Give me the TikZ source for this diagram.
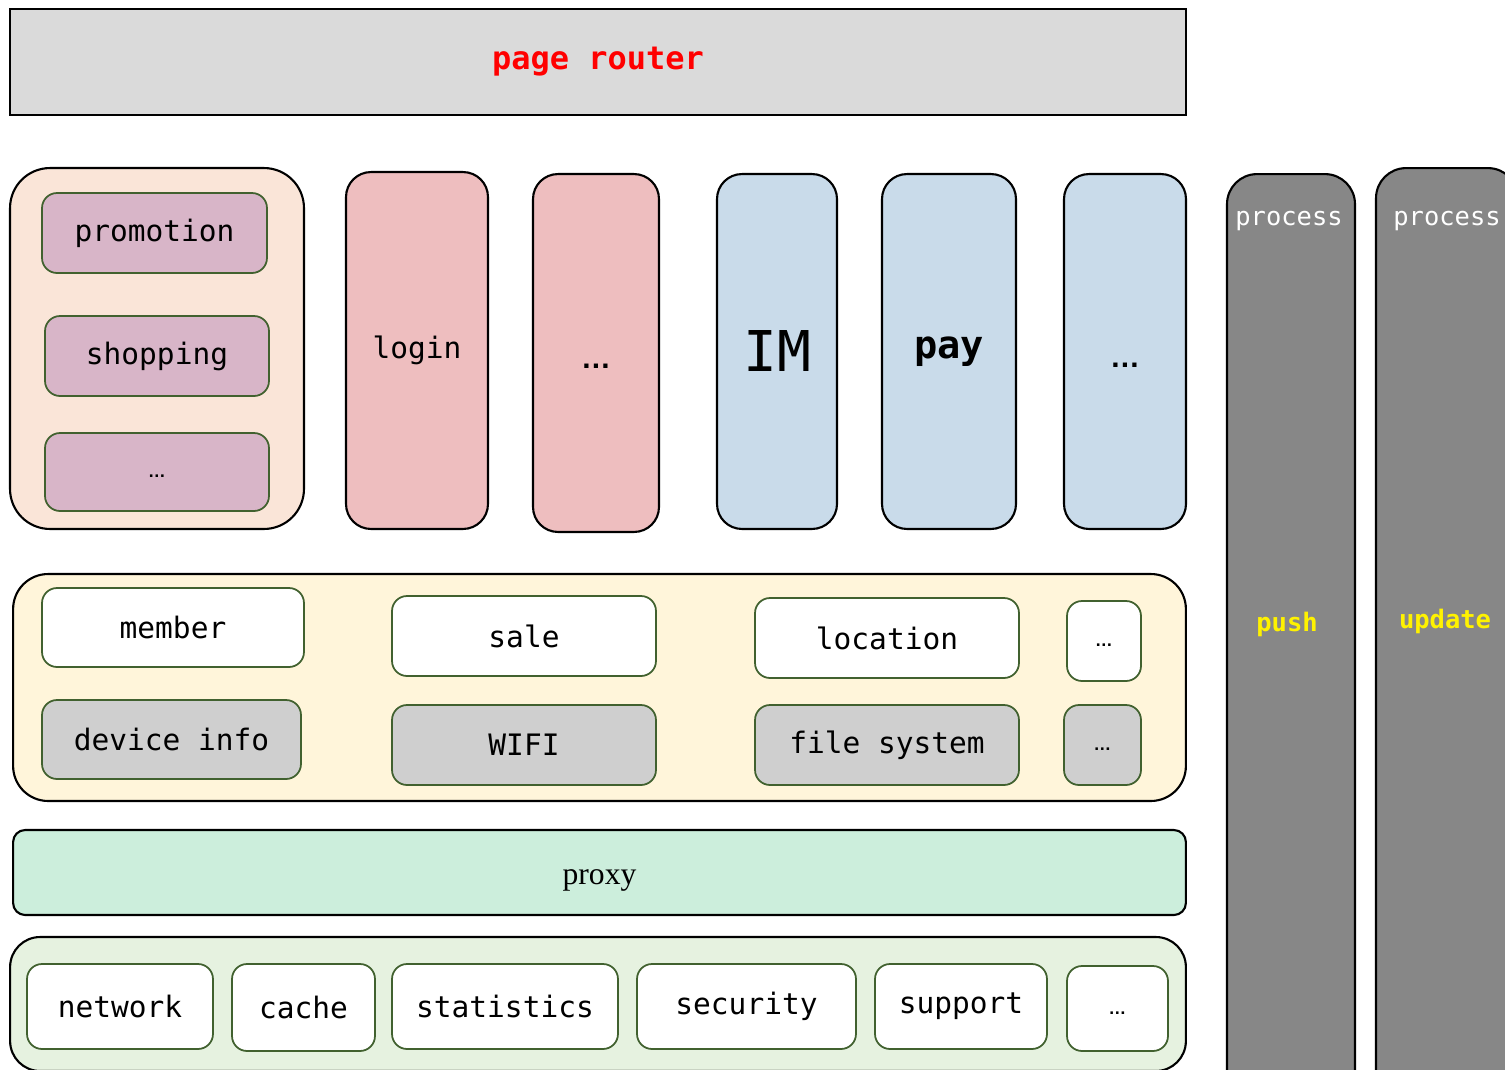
\documentclass[tikz,border=0pt]{standalone}
\usepackage{fontspec}
\setmainfont{Liberation Serif}
\setmonofont{DejaVu Sans Mono}
\newfontfamily\dotsfont{Liberation Sans}
\definecolor{routergray}{HTML}{DADADA}
\definecolor{peach}{HTML}{FAE5D8}
\definecolor{mauve}{HTML}{D8B5C8}
\definecolor{pink}{HTML}{EEBEBF}
\definecolor{paleblue}{HTML}{C9DBEA}
\definecolor{procgray}{HTML}{878787}
\definecolor{cream}{HTML}{FFF5DA}
\definecolor{boxgray}{HTML}{CFCFCF}
\definecolor{mint}{HTML}{CCEEDC}
\definecolor{palegreen}{HTML}{E6F2E0}
\definecolor{leaf}{HTML}{41612F}
\begin{document}
\begin{tikzpicture} [x=0.02cm, y=-0.02cm]
    \tikzstyle{every node}=[align = center, inner sep=0pt, font=\ttfamily\fontsize{16.8}{20}\selectfont]
    \tikzstyle{group} = [draw=black, line width=1.2pt, rounded corners=0.7cm]
    \tikzstyle{module} = [draw=black, line width=1.2pt, rounded corners=0.5cm, minimum height=7.1cm]
    \tikzstyle{leafbox} = [draw=leaf, line width=1pt, rounded corners=0.3cm, minimum height=1.6cm]
    \tikzstyle{dots} = [font=\dotsfont\bfseries\fontsize{10}{12}\selectfont, text height=0.22cm, text depth=0pt]
    \tikzstyle{bigdots} = [font=\dotsfont\bfseries\fontsize{17}{20}\selectfont, text height=0.62cm, text depth=0pt]
    \tikzstyle{proc} = [draw=black, line width=1.2pt, fill=procgray, rounded corners=0.6cm]
    \tikzstyle{proctext} = [text=white, font=\ttfamily\fontsize{14.5}{17}\selectfont]
    \tikzstyle{procname} = [text=yellow, font=\ttfamily\bfseries\fontsize{14.5}{17}\selectfont]
    \useasboundingbox (0,0) rectangle (1505,1069);
    \clip (0,0) rectangle (1505,1069);

    % router
    \node[draw=black, line width=1.2pt, fill=routergray, minimum width=23.52cm, minimum height=2.12cm,
          text=red, font=\ttfamily\bfseries\fontsize{18.2}{22}\selectfont] (router) at (598,62) {page router};

    % business modules
    \node[group, fill=peach, rounded corners=0.8cm, minimum width=5.88cm, minimum height=7.22cm] (promogroup) at (157,348.5) {};
    \node[leafbox, fill=mauve, minimum width=4.5cm] (promotion) at (154.5,233) {promotion};
    \node[leafbox, fill=mauve, minimum width=4.48cm] (shopping) at (157,356) {shopping};
    \node[leafbox, fill=mauve, minimum width=4.48cm, minimum height=1.56cm, dots] (promomore) at (157,472) {…};
    \node[module, fill=pink, minimum width=2.84cm, minimum height=7.14cm] (login) at (417,350.5) {login};
    \node[module, fill=pink, minimum width=2.52cm, minimum height=7.16cm, bigdots] (loginmore) at (596,353) {…};
    \node[module, fill=paleblue, minimum width=2.4cm, font=\ttfamily\fontsize{32}{36}\selectfont] (im) at (777,351.5) {IM};
    \node[module, fill=paleblue, minimum width=2.68cm, font=\ttfamily\bfseries\fontsize{22}{26}\selectfont] (pay) at (949,351.5) {pay};
    \node[module, fill=paleblue, minimum width=2.44cm, bigdots] (paymore) at (1125,351.5) {…};

    % processes
    \node[proc, minimum width=2.56cm, minimum height=18.52cm] (pushproc) at (1291,637) {};
    \node[proctext] (pushtitle) at (1289,221) {process};
    \node[procname] (pushname) at (1287,624) {push};
    \node[proc, minimum width=2.84cm, minimum height=18.64cm] (updateproc) at (1447,634) {};
    \node[proctext] (updatetitle) at (1447,221) {process};
    \node[procname] (updatename) at (1445,621) {update};

    % services
    \node[group, fill=cream, minimum width=23.46cm, minimum height=4.54cm] (servicegroup) at (599.5,687.5) {};
    \node[leafbox, fill=white, minimum width=5.24cm, minimum height=1.58cm] (member) at (173,627.5) {member};
    \node[leafbox, fill=white, minimum width=5.28cm] (sale) at (524,636) {sale};
    \node[leafbox, fill=white, minimum width=5.28cm] (location) at (887,638) {location};
    \node[leafbox, fill=white, minimum width=1.48cm, dots] (servicemore) at (1104,641) {…};
    \node[leafbox, fill=boxgray, minimum width=5.18cm, minimum height=1.58cm] (deviceinfo) at (171.5,739.5) {device info};
    \node[leafbox, fill=boxgray, minimum width=5.28cm] (wifi) at (524,745) {WIFI};
    \node[leafbox, fill=boxgray, minimum width=5.28cm] (filesystem) at (887,745) {file system};
    \node[leafbox, fill=boxgray, minimum width=1.54cm, dots] (devicemore) at (1102.5,745) {…};

    % proxy
    \node[group, fill=mint, rounded corners=0.24cm, minimum width=23.46cm, minimum height=1.7cm, text height=0.62cm,
          font=\rmfamily\fontsize{18}{22}\selectfont] (proxy) at (599.5,872.5) {proxy};

    % base
    \node[group, fill=palegreen, rounded corners=0.6cm, minimum width=23.52cm, minimum height=2.68cm] (basegroup) at (598,1004) {};
    \node[leafbox, fill=white, minimum width=3.72cm, minimum height=1.7cm] (network) at (120,1006.5) {network};
    \node[leafbox, fill=white, minimum width=2.86cm, minimum height=1.74cm] (cache) at (303.5,1007.5) {cache};
    \node[leafbox, fill=white, minimum width=4.52cm, minimum height=1.7cm] (statistics) at (505,1006.5) {statistics};
    \node[leafbox, fill=white, minimum width=4.38cm, minimum height=1.7cm] (security) at (746.5,1006.5) {security};
    \node[leafbox, fill=white, minimum width=3.44cm, minimum height=1.7cm] (support) at (961,1006.5) {support};
    \node[leafbox, fill=white, minimum width=2.02cm, minimum height=1.7cm, dots] (basemore) at (1117.5,1008.5) {…};
\end{tikzpicture}
\end{document}
